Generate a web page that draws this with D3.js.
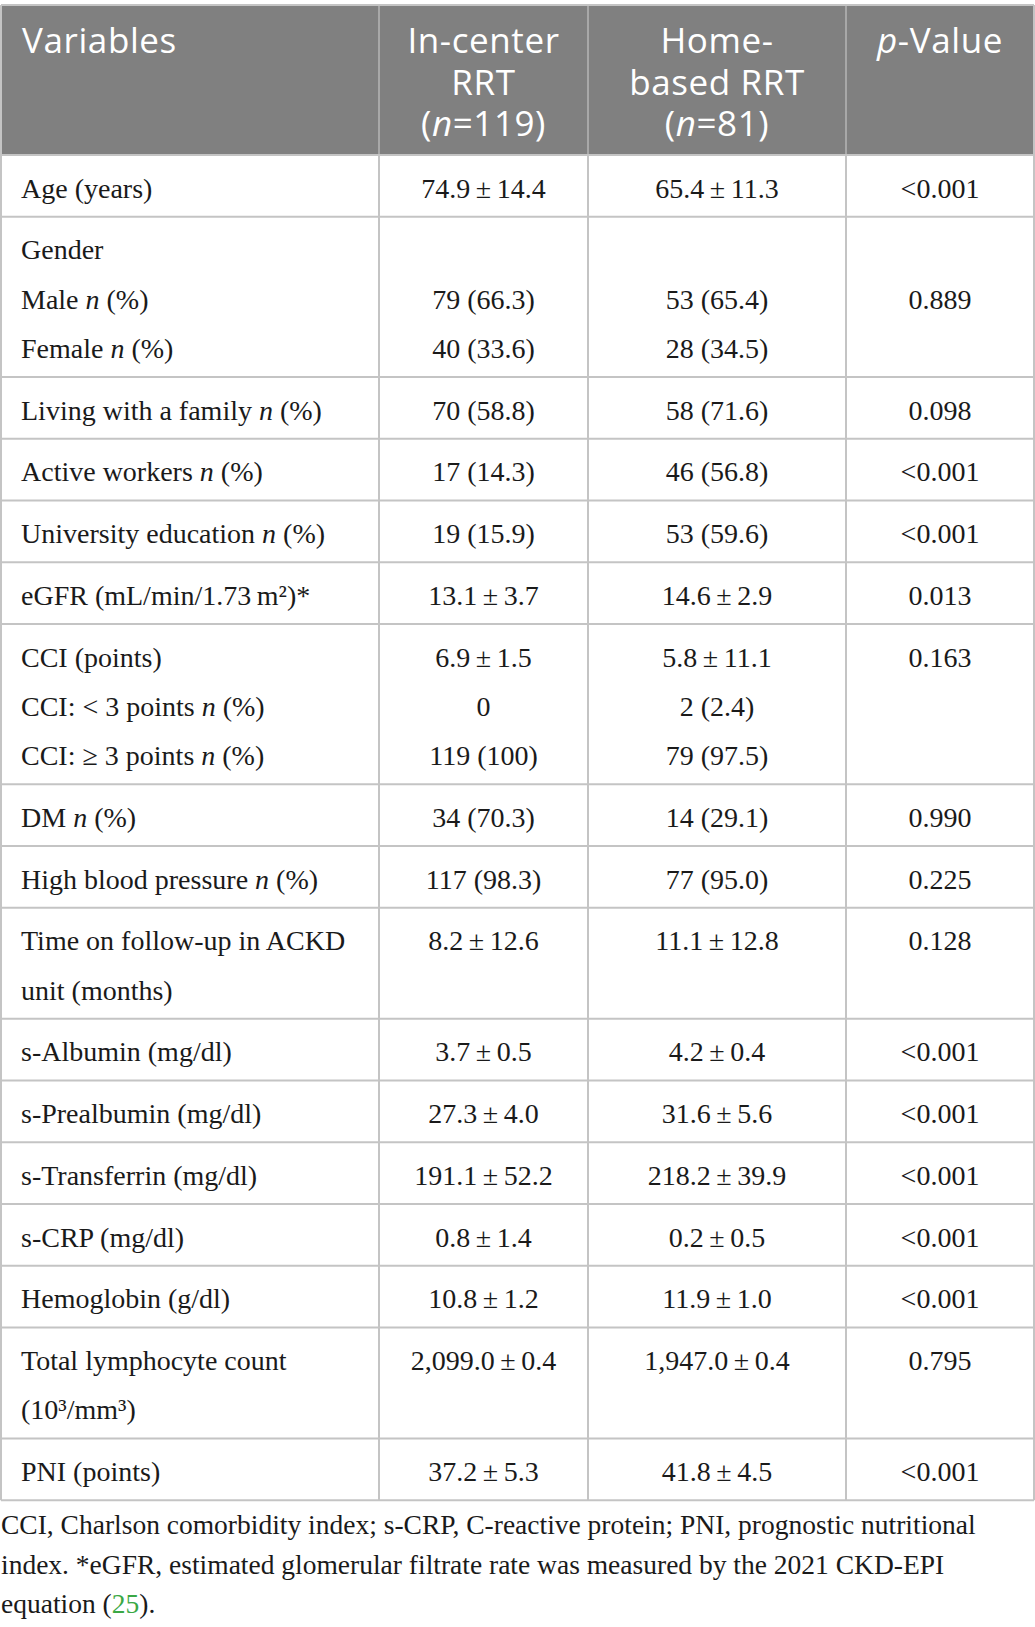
<!DOCTYPE html>
<html>
<head>
<meta charset="utf-8">
<script src="https://cdn.jsdelivr.net/npm/d3@7"></script>
<style>
  html, body { margin: 0; padding: 0; background: #fff; }
  svg { display: block; }
</style>
</head>
<body>
<div id="chart"></div>
<script>
// table 1 — patient characteristics by RRT modality

// header lines per column (_x_ marks italic)
const headerLines = [
  ["Variables"],
  ["In-center", "RRT", "(_n_=119)"],
  ["Home-", "based RRT", "(_n_=81)"],
  ["_p_-Value"]
];

// one entry per row, each row can span several text lines
const rowLabels = [
  ["Age (years)"],
  ["Gender", "Male _n_ (%)", "Female _n_ (%)"],
  ["Living with a family _n_ (%)"],
  ["Active workers _n_ (%)"],
  ["University education _n_ (%)"],
  ["eGFR (mL/min/1.73\u2009m²)*"],
  ["CCI (points)", "CCI: < 3 points _n_ (%)", "CCI: ≥ 3 points _n_ (%)"],
  ["DM _n_ (%)"],
  ["High blood pressure _n_ (%)"],
  ["Time on follow-up in ACKD", "unit (months)"],
  ["s-Albumin (mg/dl)"],
  ["s-Prealbumin (mg/dl)"],
  ["s-Transferrin (mg/dl)"],
  ["s-CRP (mg/dl)"],
  ["Hemoglobin (g/dl)"],
  ["Total lymphocyte count", "(10³/mm³)"],
  ["PNI (points)"]
];

const inCenter = [
  ["74.9 ± 14.4"],
  ["", "79 (66.3)", "40 (33.6)"],
  ["70 (58.8)"],
  ["17 (14.3)"],
  ["19 (15.9)"],
  ["13.1 ± 3.7"],
  ["6.9 ± 1.5", "0", "119 (100)"],
  ["34 (70.3)"],
  ["117 (98.3)"],
  ["8.2 ± 12.6"],
  ["3.7 ± 0.5"],
  ["27.3 ± 4.0"],
  ["191.1 ± 52.2"],
  ["0.8 ± 1.4"],
  ["10.8 ± 1.2"],
  ["2,099.0 ± 0.4"],
  ["37.2 ± 5.3"]
];

const homeBased = [
  ["65.4 ± 11.3"],
  ["", "53 (65.4)", "28 (34.5)"],
  ["58 (71.6)"],
  ["46 (56.8)"],
  ["53 (59.6)"],
  ["14.6 ± 2.9"],
  ["5.8 ± 11.1", "2 (2.4)", "79 (97.5)"],
  ["14 (29.1)"],
  ["77 (95.0)"],
  ["11.1 ± 12.8"],
  ["4.2 ± 0.4"],
  ["31.6 ± 5.6"],
  ["218.2 ± 39.9"],
  ["0.2 ± 0.5"],
  ["11.9 ± 1.0"],
  ["1,947.0 ± 0.4"],
  ["41.8 ± 4.5"]
];

const pValues = [
  ["<0.001"],
  ["", "0.889", ""],
  ["0.098"],
  ["<0.001"],
  ["<0.001"],
  ["0.013"],
  ["0.163", "", ""],
  ["0.990"],
  ["0.225"],
  ["0.128"],
  ["<0.001"],
  ["<0.001"],
  ["<0.001"],
  ["<0.001"],
  ["<0.001"],
  ["0.795"],
  ["<0.001"]
];

const footnoteLines = [
  "CCI, Charlson comorbidity index; s-CRP, C-reactive protein; PNI, prognostic nutritional",
  "index. *eGFR, estimated glomerular filtrate rate was measured by the 2021 CKD-EPI",
  "equation ([25])."
];

// layout
const W = 1035, H = 1627;
const colEdges = [1, 379, 588, 846, 1034];
const headTop = 5, headBottom = 155;
const rowPad = 12.5, lineH = 49.25;
const firstBase = 42.5;
const borderColor = "#c4c4c4";
const headFill = "#808080";
const serif = "'Liberation Serif', 'Times New Roman', serif";
const sans = "'Open Sans', 'Noto Sans', sans-serif";

const svg = d3.select("#chart").append("svg")
  .attr("width", W).attr("height", H)
  .attr("viewBox", `0 0 ${W} ${H}`);

svg.append("rect").attr("width", W).attr("height", H).attr("fill", "#fff");

// row heights from line counts, then a linear scale over cumulative height
const rowHeights = rowLabels.map(l => rowPad + l.length * lineH);
const rowTops = [0, ...d3.cumsum(rowHeights)];
const y = d3.scaleLinear()
  .domain([0, rowTops[rowTops.length - 1]])
  .range([headBottom, headBottom + rowTops[rowTops.length - 1]]);

const colCenter = i => (colEdges[i] + colEdges[i + 1]) / 2;

// write a text with _italic_ pieces as tspans
function richText(sel, str) {
  const parts = str.split(/(_[^_]+_)/).filter(s => s.length);
  parts.forEach(p => {
    const it = p.startsWith("_") && p.endsWith("_");
    sel.append("tspan")
      .attr("font-style", it ? "italic" : null)
      .text(it ? p.slice(1, -1) : p);
  });
}

// pretty ± with thin spaces
const fmtVal = s => s.replace(" ± ", "\u2009±\u2009");

// header
svg.append("rect")
  .attr("x", colEdges[0]).attr("y", headTop)
  .attr("width", colEdges[4] - colEdges[0])
  .attr("height", headBottom - headTop)
  .attr("fill", headFill);

headerLines.forEach((lines, ci) => {
  lines.forEach((ln, li) => {
    const t = svg.append("text")
      .attr("x", ci === 0 ? 22 : colCenter(ci))
      .attr("y", headTop + 48 + li * 41.5)
      .attr("text-anchor", ci === 0 ? "start" : "middle")
      .attr("font-family", sans)
      .attr("font-size", "35px")
      .attr("letter-spacing", "0.6px")
      .attr("fill", "#fff");
    richText(t, ln);
  });
});

// header inner separators
colEdges.slice(1, 4).forEach(x => {
  svg.append("line")
    .attr("x1", x).attr("x2", x)
    .attr("y1", headTop).attr("y2", headBottom)
    .attr("stroke", "#a8a8a8").attr("stroke-width", 2);
});

// body cells
const columns = [rowLabels, inCenter, homeBased, pValues];
columns.forEach((col, ci) => {
  col.forEach((lines, ri) => {
    lines.forEach((ln, li) => {
      if (!ln) return;
      const t = svg.append("text")
        .attr("x", ci === 0 ? 21 : colCenter(ci))
        .attr("y", y(rowTops[ri]) + firstBase + li * lineH)
        .attr("text-anchor", ci === 0 ? "start" : "middle")
        .attr("font-family", serif)
        .attr("font-size", "28px")
        .attr("fill", "#1a1a1a");
      richText(t, ci === 0 ? ln : fmtVal(ln));
    });
  });
});

// horizontal rules
rowTops.forEach(r => {
  svg.append("line")
    .attr("x1", colEdges[0]).attr("x2", colEdges[4])
    .attr("y1", y(r)).attr("y2", y(r))
    .attr("stroke", borderColor).attr("stroke-width", 2);
});
svg.append("line")
  .attr("x1", colEdges[0]).attr("x2", colEdges[4])
  .attr("y1", headTop).attr("y2", headTop)
  .attr("stroke", borderColor).attr("stroke-width", 2);

// vertical rules in body
colEdges.forEach((x, i) => {
  svg.append("line")
    .attr("x1", x).attr("x2", x)
    .attr("y1", i === 0 || i === 4 ? headTop : headBottom)
    .attr("y2", y.range()[1])
    .attr("stroke", borderColor).attr("stroke-width", 2);
});

// footnote
const footTop = y.range()[1];
footnoteLines.forEach((ln, i) => {
  const t = svg.append("text")
    .attr("x", 1)
    .attr("y", footTop + 34 + i * 39.5)
    .attr("font-family", serif)
    .attr("font-size", "27.5px")
    .attr("fill", "#1a1a1a");
  ln.split(/(\[[^\]]+\])/).filter(s => s.length).forEach(p => {
    const ref = p.startsWith("[");
    t.append("tspan")
      .attr("fill", ref ? "#3aa845" : null)
      .text(ref ? p.slice(1, -1) : p);
  });
});
</script>
</body>
</html>
